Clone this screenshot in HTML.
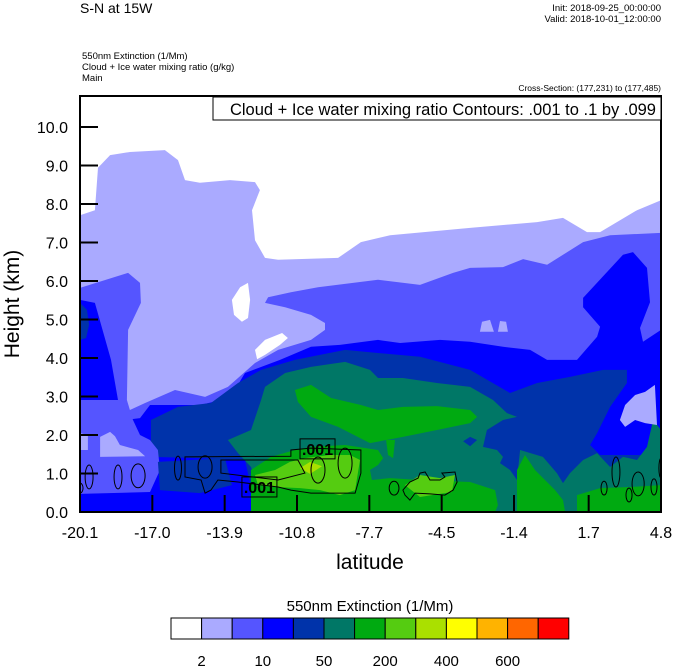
<!DOCTYPE html>
<html><head><meta charset="utf-8"><style>
body{margin:0;background:#fff;}
svg{display:block;font-family:"Liberation Sans",sans-serif;}
</style></head><body>
<svg id="chart" width="674" height="668" viewBox="0 0 674 668" xmlns="http://www.w3.org/2000/svg">
<text x="80" y="13" font-size="14">S-N at 15W</text>
<text x="661" y="11" font-size="9.5" text-anchor="end">Init: 2018-09-25_00:00:00</text>
<text x="661" y="22" font-size="9.5" text-anchor="end">Valid: 2018-10-01_12:00:00</text>
<text x="82" y="59" font-size="9.5">550nm Extinction   (1/Mm)</text>
<text x="82" y="70" font-size="9.5">Cloud + Ice water mixing ratio   (g/kg)</text>
<text x="82" y="81" font-size="9.5">Main</text>
<text x="661" y="91" font-size="8.5" text-anchor="end">Cross-Section: (177,231) to (177,485)</text>
<defs><clipPath id="pc"><rect x="80" y="96" width="581" height="416"/></clipPath></defs>
<g id="fills" clip-path="url(#pc)"></g>
<g id="lines" clip-path="url(#pc)"></g>
<g id="axes"></g>
<rect x="213" y="97" width="448" height="23" fill="#fff" stroke="#000" stroke-width="1"/>
<text x="656" y="115" font-size="16.5" text-anchor="end">Cloud + Ice water mixing ratio Contours: .001 to .1 by .099</text>
<text transform="translate(19,304) rotate(-90)" font-size="21" text-anchor="middle">Height (km)</text>
<text x="370" y="569" font-size="21" text-anchor="middle">latitude</text>
<text x="370" y="611" font-size="15" text-anchor="middle">550nm Extinction  (1/Mm)</text>
<g id="cbar"></g>
</svg>
<script>
const NS="http://www.w3.org/2000/svg";
const yTicks=[0,1,2,3,4,5,6,7,8,9,10];
const xTickLabels=["-20.1","-17.0","-13.9","-10.8","-7.7","-4.5","-1.4","1.7","4.8"];
const xTickVals=[-20.1,-17.0,-13.9,-10.8,-7.7,-4.6,-1.5,1.7,4.8];
const cbColors=["#ffffff","#aaaaff","#5555ff","#0000ff","#0033aa","#007766","#00aa11","#55cc11","#aae000","#ffff00","#ffb300","#ff6600","#ff0000"];
const cbLabels=["2","10","50","200","400","600"];
const cbLabelIdx=[1,3,5,7,9,11];
// filled contour regions: [colour, [lat,h,...]]
const lavender=[-20.1,7.71,-19.46,7.84,-19.33,8.94,-18.81,9.27,-17.96,9.35,-16.46,9.4,-15.9,9.14,-15.6,8.62,-14.96,8.55,-13.67,8.62,-12.6,8.57,-12.39,8.36,-12.73,7.84,-12.6,7.06,-12.17,6.6,-11.61,6.55,-9.04,6.6,-8.06,7.01,-6.81,7.19,-3.38,7.38,-0.51,7.53,0.6,7.64,1.63,7.27,2.19,7.27,3.77,7.84,4.8,8.1,4.8,0,-20.1,0];
const medBlue=[-20.1,5.82,-18.04,6.21,-17.53,5.95,-17.49,5.43,-18.04,4.73,-18.09,2.91,-17.96,2.65,-17.31,2.83,-16.03,3.17,-14.74,2.99,-13.76,3.25,-12.6,3.87,-11.61,4.21,-10.2,4.47,-9.6,4.73,-9.6,4.91,-10.2,5.12,-11.31,5.32,-12.17,5.43,-12.04,5.58,-11.06,5.71,-9.9,5.84,-7.33,6.03,-5.53,5.9,-4.11,6.21,-3.38,6.34,-1.97,6.36,-1.11,6.57,-0.08,6.42,1.46,7.01,2.62,7.19,4.8,7.25,4.8,0,-20.1,0];
const blue=[-20.1,5.51,-19.46,5.43,-18.77,3.95,-18.47,2.91,-18.17,2.39,-17.53,2.44,-17.1,2.78,-14.96,2.78,-13.67,2.96,-13.03,3.61,-11.53,3.95,-10.2,4.29,-8.96,4.34,-7.33,4.47,-6.38,4.39,-4.67,4.47,-3.38,4.42,-1.97,4.29,-0.81,4.21,-0.08,3.95,1.2,3.95,2.06,4.55,2.19,4.81,1.46,5.32,1.46,5.56,3.17,6.68,3.6,6.75,4.2,6.34,4.33,5.45,3.9,4.78,4.03,4.42,4.8,4.73,4.8,0,-20.1,0];
const darkBlue=[-17.06,2.39,-15.9,2.73,-14.49,2.83,-13.33,3.35,-12.34,3.69,-10.89,3.95,-8.74,4.21,-7.33,4.13,-5.53,4.03,-3.38,3.69,-1.67,3.09,-0.51,3.35,0.9,3.51,2.32,3.69,3.34,3.69,3.34,3.35,2.62,2.73,2.06,2.05,1.76,1.74,2.19,1.48,4.8,1.48,4.8,0,-10.67,0,-12.6,0.18,-13.03,1.35,-14.96,1.4,-17.06,1.43];
const darkEdge=[-20.1,5.43,-19.8,5.25,-19.71,4.86,-19.84,4.52,-20.1,4.47];
const patchMed=[-20.1,2.91,-18.17,2.91,-17.83,2.39,-17.53,2.0,-17.1,1.87,-16.76,1.61,-16.67,1.09,-17.1,0.52,-20.1,0.47];
const patchLav1=[-19.24,1.95,-18.81,2.08,-18.6,1.97,-18.39,1.74,-17.61,1.61,-17.31,1.45,-19.24,1.43];
const patchLav2=[-20.1,2.05,-19.76,2.0,-19.76,1.61,-20.1,1.61];
const patchDark=[-16.76,1.3,-13.89,1.4,-13.59,0.7,-14.96,0.49,-16.67,0.57];
const teal=[-13.76,1.87,-12.77,2.13,-12.34,2.91,-12.17,3.25,-11.31,3.61,-10.2,3.77,-8.74,3.9,-7.67,3.69,-7.33,3.48,-6.26,3.48,-4.8,3.35,-3.38,3.25,-2.4,2.91,-1.8,2.57,-1.37,2.47,-1.97,2.39,-2.66,2.13,-2.83,1.69,-2.23,1.61,-1.97,1.43,-2.1,1.27,-1.67,1.09,-1.37,0.83,-1.24,1.61,-0.26,1.43,0.34,1.01,0.6,0.75,0.9,1.01,1.46,1.35,2.06,1.53,2.62,1.17,3.17,1.43,3.77,1.35,4.2,1.69,4.46,2.39,4.8,2.13,4.8,0,-10.67,0,-11.1,0.31,-12.39,0.44,-12.77,1.17,-13.33,1.53];
const tealHole=[-3.68,1.84,-3.38,1.95,-3.08,1.87,-3.38,1.71];
const green1=[-10.89,3.17,-10.2,3.3,-9.34,2.96,-8.06,2.78,-7.33,2.65,-6.26,2.73,-4.8,2.75,-3.38,2.65,-3.08,2.47,-3.38,2.31,-4.8,2.13,-6.26,1.95,-7.67,1.79,-9.04,2.21,-10.2,2.47,-10.76,2.86];
const green2=[-12.77,1.09,-11.91,1.43,-10.89,1.61,-10.2,1.69,-8.74,1.74,-7.33,1.61,-7.11,1.4,-7.33,1.22,-7.67,1.09,-7.59,0.83,-6.81,0.88,-5.53,0.83,-3.38,0.78,-2.31,0.57,-2.19,0.18,-2.31,0,-12.77,0];
const green3=[-1.37,1.09,-1.03,1.48,-0.6,1.09,0.26,0.57,0.6,0.31,0.69,0,-1.37,0];
const green4=[1.2,0.44,2.19,0.62,3.47,0.65,4.8,0.7,4.8,0,1.2,0];
const green5=[-6.98,1.87,-6.6,1.87,-6.68,1.4,-6.9,1.48];
const lgreen1=[-12.6,0.96,-11.74,1.09,-11.1,1.3,-10.46,1.4,-9.39,1.48,-8.53,1.48,-8.1,1.35,-8.31,0.57,-8.96,0.44,-9.81,0.57,-10.67,0.62,-11.74,0.65,-12.47,0.7];
const lgreen2=[-6.17,0.7,-5.53,0.96,-4.67,0.88,-4.03,0.96,-4.16,0.52,-5.53,0.39];
const ygreen=[-10.67,1.14,-10.24,1.3,-9.73,1.19,-10.24,0.99];
const white1=[-13.24,5.84,-12.9,5.95,-12.81,5.51,-12.9,5.04,-13.16,4.94,-13.5,5.12,-13.59,5.51];
const white2=[-12.6,4.21,-12.17,4.47,-11.44,4.65,-11.19,4.52,-11.53,4.34,-12.17,4.08,-12.51,3.97];
const lavSpot1=[-2.96,4.68,-2.87,4.94,-2.53,4.99,-2.36,4.68];
const lavSpot2=[-2.19,4.68,-2.1,4.96,-1.84,4.94,-1.76,4.68];
const lavRight=[3.04,2.39,3.26,2.78,3.69,3.04,4.12,3.12,4.54,3.3,4.63,2.26,4.12,2.31,3.69,2.39,3.26,2.21];
// contour ellipses: lat, h, rlat, rh
const ellLat=[-19.71,-20.1,-18.47,-17.61,-15.9,-14.74,-8.74,-9.9,-6.64,2.87,2.36,3.43,3.82,4.5,4.8];
const ellH=[0.91,0.62,0.91,0.94,1.14,1.17,1.27,1.09,0.62,1.04,0.62,0.44,0.73,0.65,1.14];
const ellRLat=[0.17,0.13,0.17,0.3,0.15,0.3,0.3,0.3,0.21,0.17,0.13,0.13,0.26,0.13,0.09];
const ellRH=[0.31,0.13,0.31,0.31,0.31,0.29,0.39,0.34,0.18,0.39,0.18,0.18,0.31,0.21,0.26];
const contourOuter=[-15.6,1.43,-11.06,1.45,-11.06,1.61,-10.2,1.66,-8.06,1.61,-8.06,1.01,-8.31,0.49,-10.2,0.49,-11.06,0.57,-11.61,0.65,-13.33,0.78,-14.19,0.83,-14.49,0.57,-14.74,0.49,-14.91,0.83,-15.6,0.91];
const contourInner=[-14.06,1.35,-10.76,1.35,-10.46,1.01,-11.61,0.83,-14.06,1.01];
const contourRight=[-6.26,0.57,-5.96,0.78,-5.61,0.88,-5.53,1.01,-5.31,1.04,-5.1,0.83,-4.67,0.83,-4.46,0.91,-4.59,1.01,-4.03,1.04,-3.94,0.78,-4.11,0.57,-4.46,0.44,-5.1,0.47,-5.74,0.49,-5.96,0.31,-6.17,0.44];
const labelLat=[-9.92,-12.41];
const labelH=[1.64,0.65];
const labelText=[".001",".001"];

function X(lat){return 80+(lat+20.1)/24.9*581;}
function Y(h){return 512-h*38.5;}
function pts(a){let s=[];for(let i=0;i<a.length;i+=2)s.push(X(a[i]).toFixed(1)+","+Y(a[i+1]).toFixed(1));return s.join(" ");}
const fills=document.getElementById("fills");
const lines=document.getElementById("lines");
const axes=document.getElementById("axes");
const cbar=document.getElementById("cbar");
function poly(parent,arr,fill,name,stroke){
  const p=document.createElementNS(NS,"polygon");
  p.setAttribute("points",pts(arr));
  p.setAttribute("fill",fill);
  if(stroke){p.setAttribute("stroke",stroke);p.setAttribute("stroke-width","1");}
  
  
  parent.appendChild(p);
}
const bg=document.createElementNS(NS,"rect");
bg.setAttribute("x",80);bg.setAttribute("y",96);bg.setAttribute("width",581);bg.setAttribute("height",416);bg.setAttribute("fill","#fff");


fills.appendChild(bg);
poly(fills,lavender,"#aaaaff","level-2-region");
poly(fills,medBlue,"#5555ff","level-10-region");
poly(fills,blue,"#0000ff","level-20-region");
poly(fills,darkEdge,"#0033aa","left-edge-patch");
poly(fills,darkBlue,"#0033aa","level-50-region");
poly(fills,patchMed,"#5555ff","lower-left-patch");
poly(fills,patchLav1,"#aaaaff","lower-left-light-patch");
poly(fills,patchLav2,"#aaaaff","edge-light-patch");
poly(fills,patchDark,"#0033aa","lower-left-dark-patch");
poly(fills,teal,"#007766","level-100-region");
poly(fills,tealHole,"#0033aa","teal-hole");
poly(fills,green1,"#00aa11","green-band");
poly(fills,green2,"#00aa11","green-lower");
poly(fills,green3,"#00aa11","green-plume");
poly(fills,green4,"#00aa11","green-right");
poly(fills,green5,"#00aa11","green-drip");
poly(fills,lgreen1,"#55cc11","light-green-core");
poly(fills,lgreen2,"#55cc11","light-green-right");
poly(fills,ygreen,"#aae000","yellow-green-spot");
poly(fills,white1,"#ffffff","white-hole-1");
poly(fills,white2,"#ffffff","white-hole-2");
poly(fills,lavSpot1,"#aaaaff","light-spot-1");
poly(fills,lavSpot2,"#aaaaff","light-spot-2");
poly(fills,lavRight,"#aaaaff","right-light-patch");
// contour lines
for(let i=0;i<ellLat.length;i++){
  const e=document.createElementNS(NS,"ellipse");
  e.setAttribute("cx",X(ellLat[i]));e.setAttribute("cy",Y(ellH[i]));
  e.setAttribute("rx",ellRLat[i]/24.9*581);e.setAttribute("ry",ellRH[i]*38.5);
  e.setAttribute("fill","none");e.setAttribute("stroke","#000");e.setAttribute("stroke-width","1");
  
  
  lines.appendChild(e);
}
poly(lines,contourOuter,"none","contour-outer","#000");
poly(lines,contourInner,"none","contour-inner","#000");
poly(lines,contourRight,"none","contour-right","#000");
for(let i=0;i<labelLat.length;i++){
  const r=document.createElementNS(NS,"rect");
  r.setAttribute("x",X(labelLat[i])-17.5);r.setAttribute("y",Y(labelH[i])-10);
  r.setAttribute("width",35);r.setAttribute("height",20);
  r.setAttribute("fill","none");r.setAttribute("stroke","#000");
  
  
  lines.appendChild(r);
  const t=document.createElementNS(NS,"text");
  t.setAttribute("x",X(labelLat[i]));t.setAttribute("y",Y(labelH[i])+6);
  t.setAttribute("text-anchor","middle");t.setAttribute("font-size","16");t.setAttribute("font-weight","bold");
  t.textContent=labelText[i];
  
  
  lines.appendChild(t);
}
// axes
for(let i=0;i<yTicks.length;i++){
  const y=Y(yTicks[i]);
  const l=document.createElementNS(NS,"line");
  l.setAttribute("x1",80);l.setAttribute("x2",98);l.setAttribute("y1",y);l.setAttribute("y2",y);
  l.setAttribute("stroke","#000");l.setAttribute("stroke-width","2");
  
  
  axes.appendChild(l);
  const t=document.createElementNS(NS,"text");
  t.setAttribute("x",68);t.setAttribute("y",y+6);t.setAttribute("text-anchor","end");t.setAttribute("font-size","16");
  t.textContent=yTicks[i].toFixed(1);
  
  
  axes.appendChild(t);
}
for(let i=0;i<xTickVals.length;i++){
  const x=X(xTickVals[i]);
  if(i>0&&i<xTickVals.length-1){
    const l=document.createElementNS(NS,"line");
    l.setAttribute("x1",x);l.setAttribute("x2",x);l.setAttribute("y1",512);l.setAttribute("y2",495);
    l.setAttribute("stroke","#000");l.setAttribute("stroke-width","2");
    
    
    axes.appendChild(l);
  }
  const t=document.createElementNS(NS,"text");
  t.setAttribute("x",x);t.setAttribute("y",538);t.setAttribute("text-anchor","middle");t.setAttribute("font-size","16");
  t.textContent=xTickLabels[i];
  
  
  axes.appendChild(t);
}
const fr=document.createElementNS(NS,"rect");
fr.setAttribute("x",80);fr.setAttribute("y",96);fr.setAttribute("width",581);fr.setAttribute("height",416);
fr.setAttribute("fill","none");fr.setAttribute("stroke","#000");fr.setAttribute("stroke-width","2");


axes.appendChild(fr);
// colorbar
const cbX=171,cbW=30.6;
for(let i=0;i<cbColors.length;i++){
  const r=document.createElementNS(NS,"rect");
  r.setAttribute("x",cbX+i*cbW);r.setAttribute("y",618);r.setAttribute("width",cbW);r.setAttribute("height",21);
  r.setAttribute("fill",cbColors[i]);r.setAttribute("stroke","#000");r.setAttribute("stroke-width","1");
  
  
  cbar.appendChild(r);
}
for(let i=0;i<cbLabels.length;i++){
  const t=document.createElementNS(NS,"text");
  t.setAttribute("x",cbX+(cbLabelIdx[i])*cbW);t.setAttribute("y",666);t.setAttribute("text-anchor","middle");t.setAttribute("font-size","15");
  t.textContent=cbLabels[i];
  
  
  cbar.appendChild(t);
}
</script>
</body></html>
